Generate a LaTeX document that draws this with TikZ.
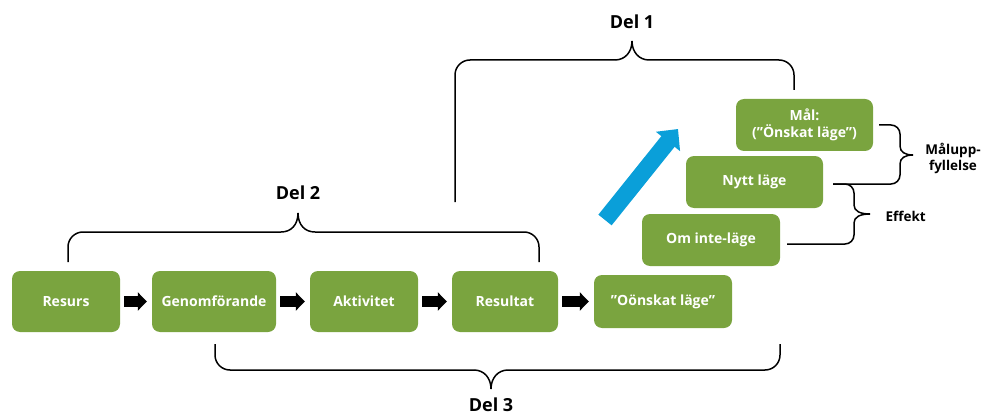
\documentclass[tikz,border=0pt]{standalone}
\usepackage{fontspec}
\setmainfont{Open Sans}
\usetikzlibrary{arrows.meta}
\definecolor{grn}{HTML}{7AA43F}
\definecolor{blu}{HTML}{0A9FD9}
\begin{document}
\begin{tikzpicture}[x=1pt,y=-1pt,
  box/.style={fill=grn, rounded corners=8pt, text=white, inner sep=0pt,
    font=\bfseries\fontsize{14}{17}\selectfont, align=center},
  flowarrow/.style={line width=11pt, -{Triangle[width=18pt,length=9pt]},
    shorten <=4pt, shorten >=5pt},
  brace/.style={draw=black, line width=1.5pt, rounded corners=15pt},
  sbrace/.style={draw=black, line width=1.5pt, rounded corners=9pt},
  dellabel/.style={font=\bfseries\fontsize{18}{21}\selectfont},
  sidelabel/.style={font=\bfseries\fontsize{13.5}{16}\selectfont, align=center}]
\useasboundingbox (0,0) rectangle (985,417);
% main row
\node[box, minimum width=108pt, minimum height=61pt] (resurs) at (66,301.5) {Resurs};
\node[box, minimum width=124pt, minimum height=61pt] (genom) at (214,301.5) {Genomförande};
\node[box, minimum width=108pt, minimum height=61pt] (akt) at (364,301.5) {Aktivitet};
\node[box, minimum width=106pt, minimum height=61pt] (res) at (505,301.5) {Resultat};
\node[box, minimum width=138pt, minimum height=53pt] (oon) at (663,301.5) {”Oönskat läge”};
% stairs
\node[box, minimum width=138pt, minimum height=52pt] (om) at (711,240) {Om inte-läge};
\node[box, minimum width=137pt, minimum height=52pt] (nytt) at (754.5,182) {Nytt läge};
\node[box, minimum width=137pt, minimum height=52pt] (mal) at (804.5,125) {Mål:\\(”Önskat läge”)};
% flow arrows
\draw[flowarrow] (resurs) -- (genom);
\draw[flowarrow] (genom) -- (akt);
\draw[flowarrow] (akt) -- (res);
\draw[flowarrow] (res) -- (oon);
% blue arrow
\coordinate (bt) at (605,220);
\coordinate (bh) at (678,129);
\draw[blu, line width=17pt, -{Triangle[width=30pt,length=16pt]}] (bt) -- (bh);
% Del 2 brace
\draw[brace] (68,262) -- (68,232) -- (281,232);
\draw[line width=1.5pt] (281,232) .. controls (291,232) and (298,225) .. (298,213)
  .. controls (298,225) and (305,232) .. (315,232);
\draw[brace] (315,232) -- (539,232) -- (539,262);
\node[dellabel] (del2) at (298,193) {Del 2};
% Del 1 brace
\draw[brace] (455,202) -- (455,60) -- (615,60);
\draw[line width=1.5pt] (615,60) .. controls (625,60) and (632,52) .. (632,41)
  .. controls (632,52) and (639,60) .. (649,60);
\draw[brace] (649,60) -- (794,60) -- (794,90);
\node[dellabel] (del1) at (632,22) {Del 1};
% Del 3 brace
\draw[brace] (215,344) -- (215,370) -- (474,370);
\draw[line width=1.5pt] (474,370) .. controls (484,370) and (491,378) .. (491,389)
  .. controls (491,378) and (498,370) .. (508,370);
\draw[brace] (508,370) -- (780,370) -- (780,344);
\node[dellabel] (del3) at (491,405) {Del 3};
% Maluppfyllelse brace
\coordinate (m1) at (879,125);
\coordinate (m2) at (833,184);
\draw[sbrace] (m1) -- (900,125) -- (900,146);
\draw[line width=1.5pt] (900,146) .. controls (900,152) and (905,155) .. (913,155)
  .. controls (905,155) and (900,158) .. (900,164);
\draw[sbrace] (900,164) -- (900,184) -- (m2);
\node[sidelabel] (malupp) at (953,158) {Målupp-\\fyllelse};
% Effekt brace
\coordinate (e2) at (787,244);
\draw[sbrace] (m2) -- (854,184) -- (854,205);
\draw[line width=1.5pt] (854,205) .. controls (854,211) and (860,214) .. (870,214)
  .. controls (860,214) and (854,217) .. (854,223);
\draw[sbrace] (854,223) -- (854,244) -- (e2);
\node[sidelabel, anchor=west] (eff) at (882,216) {Effekt};
\end{tikzpicture}
\end{document}
